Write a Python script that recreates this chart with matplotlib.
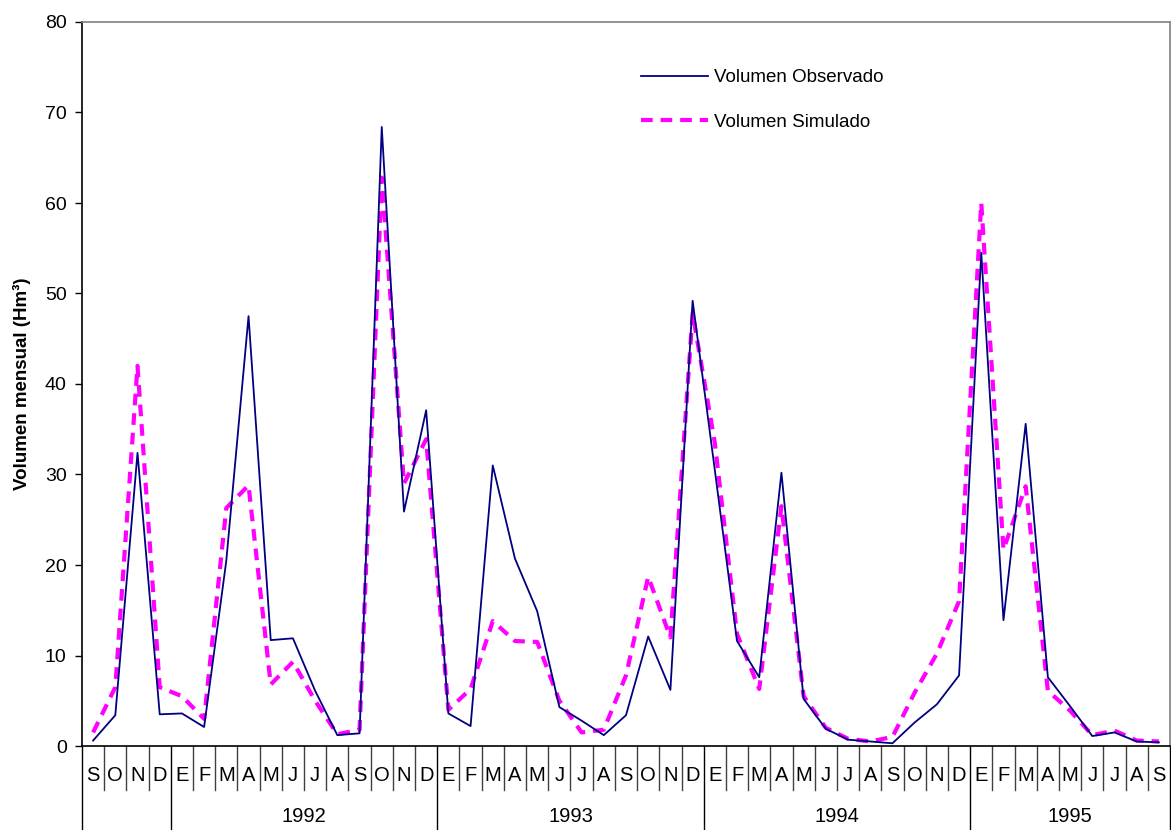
import numpy as np
import matplotlib
matplotlib.use("Agg")
import matplotlib.pyplot as plt
from matplotlib.transforms import blended_transform_factory

# month initials, Sep 1991 .. Sep 1995
months = ["S", "O", "N", "D",
          "E", "F", "M", "A", "M", "J", "J", "A", "S", "O", "N", "D",
          "E", "F", "M", "A", "M", "J", "J", "A", "S", "O", "N", "D",
          "E", "F", "M", "A", "M", "J", "J", "A", "S", "O", "N", "D",
          "E", "F", "M", "A", "M", "J", "J", "A", "S"]
years = ["1992", "1993", "1994", "1995"]
year_start = [4, 16, 28, 40, 49]  # category index where each year block starts / ends

observado = [0.6, 3.4, 32.4, 3.5, 3.6, 2.1, 20.5, 47.5, 11.7, 11.9, 6.1, 1.2, 1.4,
             68.4, 25.9, 37.1, 3.6, 2.2, 31.0, 20.7, 14.9, 4.3, 2.8, 1.2, 3.4, 12.1,
             6.2, 49.2, 30.5, 11.6, 7.6, 30.2, 5.2, 1.9, 0.7, 0.5, 0.3, 2.6, 4.6,
             7.8, 54.5, 13.9, 35.6, 7.6, 4.4, 1.1, 1.5, 0.5, 0.4]
simulado = [1.5, 6.5, 42.0, 6.5, 5.5, 3.0, 26.3, 28.8, 6.8, 9.3, 5.0, 1.3, 1.8,
            62.8, 29.0, 33.9, 4.0, 6.3, 13.8, 11.6, 11.5, 5.0, 1.5, 1.8, 7.8, 18.7,
            12.0, 47.8, 33.5, 12.4, 6.3, 26.5, 5.5, 2.0, 0.8, 0.5, 1.0, 5.9, 10.2,
            16.0, 60.0, 21.7, 28.7, 6.1, 3.9, 1.2, 1.7, 0.6, 0.5]

plt.rcParams['font.family'] = ['Liberation Sans', 'DejaVu Sans']

W, H = 1171, 830
fig = plt.figure(figsize=(W / 100, H / 100), dpi=100)
left, right, top, bottom = 82, 1170, 22, 746
ax = fig.add_axes([left / W, 1 - bottom / H, (right - left) / W, (bottom - top) / H])

x = np.arange(len(months))
ax.plot(x, observado, color='#000080', lw=1.3, label="Volumen Observado", zorder=3)
ax.plot(x, simulado, color='#FF00FF', lw=3.0, dashes=(2.8, 1.9), label="Volumen Simulado", zorder=2)

ax.set_xlim(-0.5, len(months) - 0.5)
ax.set_ylim(0, 80)
ax.set_yticks(np.arange(0, 81, 10))
ax.tick_params(axis='y', labelsize=14, direction='out', length=5, width=1, pad=6)
ax.set_xticks([])
ax.set_ylabel("Volumen mensual (Hm³)", fontsize=13.5, fontweight='bold', labelpad=10)

for s in ['top', 'right']:
    ax.spines[s].set_color('#808080')
    ax.spines[s].set_linewidth(1.2)
for s in ['left', 'bottom']:
    ax.spines[s].set_color('black')
    ax.spines[s].set_linewidth(1.2)

# category axis drawn by hand: month separators, year separators, labels
trans = blended_transform_factory(ax.transData, ax.transAxes)
ax_h = bottom - top
short = -(790 - bottom) / ax_h
long = -(H - bottom) / ax_h
for b in range(len(months) + 1):
    bx = b - 0.5
    if b == 0 or b in year_start:
        ax.plot([bx, bx], [0, long], color='black', lw=1, transform=trans, clip_on=False)
    else:
        ax.plot([bx, bx], [0, short], color='#404040', lw=1, transform=trans, clip_on=False)

label_y = -(775 - bottom) / ax_h
for i, m in enumerate(months):
    ax.text(i, label_y, m, transform=trans, ha='center', va='center', fontsize=14.5)

year_y = -(816 - bottom) / ax_h
for k, yr in enumerate(years):
    xc = (year_start[k] + year_start[k + 1]) / 2 - 0.5
    ax.text(xc, year_y, yr, transform=trans, ha='center', va='center', fontsize=14.5)

ax.legend(loc='upper left', bbox_to_anchor=(0.498, 0.958), frameon=False, fontsize=13.5,
          handlelength=3.6, labelspacing=1.45, handletextpad=0.3)

fig.savefig("out.png", dpi=100)
